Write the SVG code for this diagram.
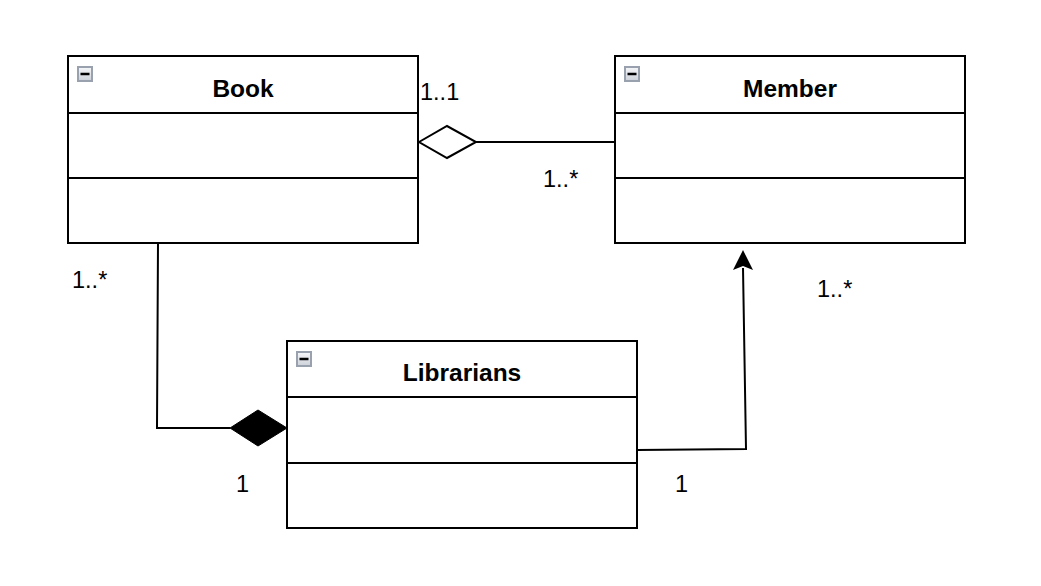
<svg xmlns="http://www.w3.org/2000/svg" width="1041" height="586" viewBox="0 0 1041 586">
<style>
.box{fill:#fff;stroke:#000;stroke-width:2}
.sep{stroke:#000;stroke-width:2}
.title{font-family:"Liberation Sans",Arial,sans-serif;font-weight:bold;font-size:24.5px;text-anchor:middle}
.lbl{font-family:"Liberation Sans",Arial,sans-serif;font-size:23.5px}
.conn{fill:none;stroke:#000;stroke-width:2}
.ico{fill:url(#ig);stroke:#9aa1ae;stroke-width:2}
.bar{stroke:#000;stroke-width:2.5}
</style>
<defs>
<linearGradient id="ig" x1="0" y1="0" x2="0" y2="1"><stop offset="0" stop-color="#f6f7f9"/><stop offset="1" stop-color="#ccd1d9"/></linearGradient>
</defs>
<rect width="1041" height="586" fill="#fff"/>
<g id="connectors">
<path class="conn" d="M476,142 L615,142"/>
<path d="M419,142 L447,126 L476,142 L447,158 Z" fill="#fff" stroke="#000" stroke-width="2"/>
<path class="conn" d="M158,243 L157,428 L230,428"/>
<path d="M230,428 L258,410 L287,428 L258,446 Z" fill="#000" stroke="#000" stroke-width="1"/>
<path class="conn" d="M637,450 L746,449 L743,268"/>
<path d="M743,250 L753,270 L743,266 L733,270 Z" fill="#000"/>
</g>
<g id="book">
<rect class="box" x="68" y="56" width="350" height="187"/>
<line class="sep" x1="68" y1="113" x2="418" y2="113"/>
<line class="sep" x1="68" y1="178" x2="418" y2="178"/>
<rect class="ico" x="78" y="67" width="14" height="14"/>
<line class="bar" x1="80.5" y1="74" x2="89.5" y2="74"/>
<text class="title" x="243" y="97">Book</text>
</g>
<g id="member">
<rect class="box" x="615" y="56" width="350" height="187"/>
<line class="sep" x1="615" y1="113" x2="965" y2="113"/>
<line class="sep" x1="615" y1="178" x2="965" y2="178"/>
<rect class="ico" x="625" y="67" width="14" height="14"/>
<line class="bar" x1="627.5" y1="74" x2="636.5" y2="74"/>
<text class="title" x="790" y="97">Member</text>
</g>
<g id="librarians">
<rect class="box" x="287" y="341" width="350" height="187"/>
<line class="sep" x1="287" y1="397" x2="637" y2="397"/>
<line class="sep" x1="287" y1="463" x2="637" y2="463"/>
<rect class="ico" x="297" y="352" width="14" height="14"/>
<line class="bar" x1="299.5" y1="359" x2="308.5" y2="359"/>
<text class="title" x="462" y="381">Librarians</text>
</g>
<g id="labels">
<text class="lbl" x="420" y="100">1..1</text>
<text class="lbl" x="543" y="187">1..*</text>
<text class="lbl" x="72" y="288">1..*</text>
<text class="lbl" x="236" y="492">1</text>
<text class="lbl" x="675" y="492">1</text>
<text class="lbl" x="817" y="297">1..*</text>
</g>
</svg>
